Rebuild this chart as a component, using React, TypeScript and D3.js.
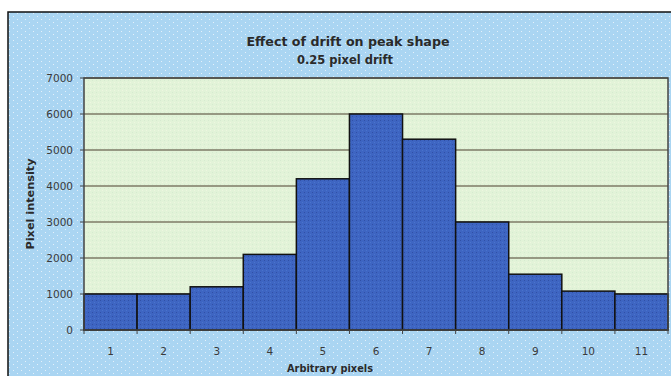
import React from "react";
import * as d3 from "d3";

const categories = ["1", "2", "3", "4", "5", "6", "7", "8", "9", "10", "11"];
const values = [1000, 1000, 1200, 2100, 4200, 6000, 5300, 3000, 1550, 1080, 1000];
const yTicks = [0, 1000, 2000, 3000, 4000, 5000, 6000, 7000];
const titleLines = ["Effect of drift on peak shape", "0.25 pixel drift"];
const xTitle = "Arbitrary pixels";
const yTitle = "Pixel intensity";

const W = 671;
const H = 376;
const plot = { left: 84, right: 668, top: 78, bottom: 330 };
const font = "'DejaVu Sans', 'Liberation Sans', Arial, sans-serif";

export default function App() {
  const x = d3
    .scaleBand<string>()
    .domain(categories)
    .range([plot.left, plot.right])
    .padding(0);
  const y = d3.scaleLinear().domain([0, 7000]).range([plot.bottom, plot.top]);

  return (
    <svg
      width={W}
      height={H}
      style={{ position: "absolute", left: 0, top: 0 }}
      xmlns="http://www.w3.org/2000/svg"
    >
      <defs>
        <pattern id="bgdots" width="8" height="6" patternUnits="userSpaceOnUse">
          <rect width="8" height="6" fill="#aad5f2" />
          <rect x="1" y="1" width="1" height="1" fill="#e4f0fa" />
          <rect x="5" y="4" width="1" height="1" fill="#e4f0fa" />
        </pattern>
        <pattern id="plotdots" width="4" height="4" patternUnits="userSpaceOnUse">
          <rect width="4" height="4" fill="#e2f3d8" />
          <rect x="0" y="0" width="1" height="1" fill="#d6ead0" />
          <rect x="2" y="2" width="1" height="1" fill="#eef6e0" />
        </pattern>
        <pattern id="bardots" width="4" height="4" patternUnits="userSpaceOnUse">
          <rect width="4" height="4" fill="#3e65c2" />
          <rect x="0" y="0" width="1" height="1" fill="#3050a6" />
          <rect x="2" y="2" width="1" height="1" fill="#4a74cc" />
        </pattern>
      </defs>
      <rect x={0} y={0} width={W} height={H} fill="#ffffff" />
      <rect x={8} y={12} width={W + 20} height={H + 20} fill="url(#bgdots)" stroke="#111" strokeWidth={1.5} />

      {/* title */}
      <text
        x={348}
        y={46}
        textAnchor="middle"
        fontFamily={font}
        fontSize={12}
        fontWeight="bold"
        fill="#2a2a2a"
        textLength={203}
        lengthAdjust="spacingAndGlyphs"
      >
        {titleLines[0]}
      </text>
      <text
        x={345}
        y={64}
        textAnchor="middle"
        fontFamily={font}
        fontSize={12}
        fontWeight="bold"
        fill="#2a2a2a"
        textLength={96}
        lengthAdjust="spacingAndGlyphs"
      >
        {titleLines[1]}
      </text>

      {/* plot area */}
      <rect
        x={plot.left}
        y={plot.top}
        width={plot.right - plot.left}
        height={plot.bottom - plot.top}
        fill="url(#plotdots)"
      />
      {yTicks.map((t) => (
        <g key={t}>
          <line
            x1={plot.left}
            x2={plot.right}
            y1={y(t)}
            y2={y(t)}
            stroke="#7d7a66"
            strokeWidth={1.5}
          />
          <line x1={plot.left - 4} x2={plot.left} y1={y(t)} y2={y(t)} stroke="#444" />
          <text
            x={73}
            y={y(t) + 4}
            textAnchor="end"
            fontFamily={font}
            fontSize={10.5}
            fill="#3a3a3a"
          >
            {t}
          </text>
        </g>
      ))}

      {/* bars */}
      {categories.map((c, i) => (
        <rect
          key={c}
          x={x(c)!}
          y={y(values[i])}
          width={x.bandwidth()}
          height={plot.bottom - y(values[i])}
          fill="url(#bardots)"
          stroke="#111"
          strokeWidth={1.5}
        />
      ))}

      {/* plot border */}
      <rect
        x={plot.left}
        y={plot.top}
        width={plot.right - plot.left}
        height={plot.bottom - plot.top}
        fill="none"
        stroke="#444"
        strokeWidth={1.5}
      />

      {/* x ticks */}
      {categories.map((c) => (
        <g key={"t" + c}>
          <line
            x1={x(c)!}
            x2={x(c)!}
            y1={plot.bottom}
            y2={plot.bottom + 4}
            stroke="#444"
          />
          <text
            x={x(c)! + x.bandwidth() / 2}
            y={355}
            textAnchor="middle"
            fontFamily={font}
            fontSize={10.5}
            fill="#3a3a3a"
          >
            {c}
          </text>
        </g>
      ))}
      <line x1={plot.right} x2={plot.right} y1={plot.bottom} y2={plot.bottom + 4} stroke="#444" />

      <text
        x={330}
        y={372}
        textAnchor="middle"
        fontFamily={font}
        fontSize={11}
        fontWeight="bold"
        fill="#2a2a2a"
        textLength={86}
        lengthAdjust="spacingAndGlyphs"
      >
        {xTitle}
      </text>
      <text
        transform={`translate(34,${(plot.top + plot.bottom) / 2}) rotate(-90)`}
        textAnchor="middle"
        fontFamily={font}
        fontSize={11}
        fontWeight="bold"
        fill="#2a2a2a"
        textLength={91}
        lengthAdjust="spacingAndGlyphs"
      >
        {yTitle}
      </text>
    </svg>
  );
}
